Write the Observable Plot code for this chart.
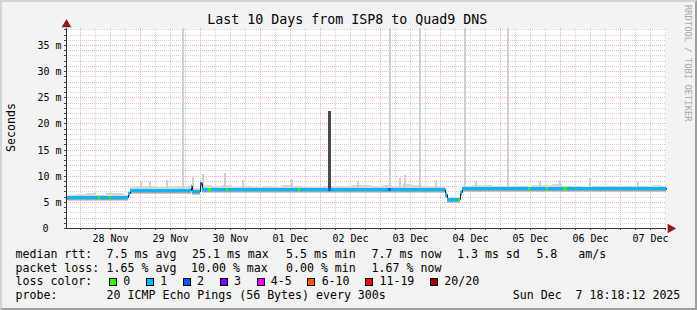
<!DOCTYPE html>
<html><head><meta charset="utf-8">
<script src="https://cdn.jsdelivr.net/npm/d3@7"></script>
<script src="https://cdn.jsdelivr.net/npm/@observablehq/plot@0.6"></script>
<style>
body{margin:0;background:#fff}
#chart{position:relative;width:697px;height:310px;background:#f3f3f3;overflow:hidden;font-family:"DejaVu Sans Mono",monospace;color:#000}
#chart svg{position:absolute;left:0;top:0}
.t{position:absolute;white-space:pre;font-size:11.6px;line-height:1}
#title{position:absolute;left:0;width:694.6px;top:12.75px;text-align:center;font-size:13.3px;line-height:1;white-space:pre}
#border{position:absolute;left:0;top:0;width:697px;height:310px;box-sizing:border-box;border-style:solid;border-width:2px;border-color:#d4d4d4 #9e9e9e #9e9e9e #d4d4d4;pointer-events:none}
#losses{position:absolute;left:109px;top:276.2px;display:flex;align-items:center;font-size:11.6px;line-height:1;white-space:pre}
.box{width:8px;height:8px;box-sizing:border-box;border:1px solid #000;margin-right:6.3px}
.lbl{margin-right:15.6px}
</style></head>
<body>
<div id="chart"></div>
<script>
// ---------- data ----------
const startTime = new Date("2025-11-27T18:18:12");
const endTime = new Date("2025-12-07T18:18:12");

// median rtt (ms) as steps; hours since start, value, loss bucket index
const medianHour = [0, 12.8, 13.6, 17.2, 18.0, 24.6, 25.4, 50.0, 50.4, 53.6, 54.4, 56.8, 58.0, 64.0, 64.8, 92.8, 93.6, 104.8, 106.0, 129.0, 129.8, 151.8, 152.4, 156.8, 157.6, 158.2, 184.8, 185.6, 192.0, 192.8, 198.8, 200.4, 240];
const medianMs   = [5.85, 5.85, 5.85, 5.85, 5.85, 6.6, 7.3, 8.1, 7.1, 8.6, 7.45, 7.45, 7.45, 7.45, 7.45, 7.45, 7.45, 7.45, 7.45, 7.45, 7.45, 6.5, 5.55, 5.55, 6.8, 7.6, 7.6, 7.6, 7.6, 7.6, 7.6, 7.6, 7.5];
const medianLoss = [1, 0, 1, 0, 1, 1, 1, 1, 1, 2, 1, 0, 1, 0, 1, 0, 1, 2, 1, 2, 1, 1, 1, 0, 1, 1, 0, 1, 0, 1, 0, 1, 1];

// smoke band (ms)
const smokeHour = [0, 4, 8, 12, 16, 20, 23.2, 24.6, 25.4, 28, 32, 36, 40, 44, 48, 50, 50.4, 53.6, 54.4, 58.4, 62.4, 66.4, 70.4, 74.4, 78.4, 82.4, 86.4, 90.4, 94.4, 98.4, 102.4, 106.4, 110.4, 114.4, 118.4, 122.4, 126.4, 130.4, 134.4, 138.4, 142.4, 146.4, 149.6, 151.8, 152.4, 157.6, 158.2, 162.4, 166.4, 170.4, 174.4, 178.4, 182.4, 186.4, 190.4, 194.4, 198.4, 202.4, 206.4, 210.4, 214.4, 218.4, 222.4, 226.4, 230.4, 234.4, 238.4, 240];
const smokeLo = [5.4, 5.4, 5.4, 5.4, 5.4, 5.4, 5.4, 6.2, 6.85, 6.85, 6.85, 6.85, 6.85, 6.85, 6.85, 6.7, 6.65, 7.0, 7.0, 7.0, 7.0, 7.0, 7.0, 7.0, 7.0, 7.0, 7.0, 7.0, 7.0, 7.0, 7.0, 7.0, 7.0, 7.0, 7.0, 7.0, 7.0, 7.0, 7.0, 7.0, 7.0, 7.0, 7.0, 6.1, 5.15, 6.4, 7.1, 7.1, 7.1, 7.1, 7.1, 7.1, 7.1, 7.1, 7.1, 7.1, 7.1, 7.1, 7.1, 7.1, 7.1, 7.1, 7.1, 7.1, 7.1, 7.1, 7.1, 7.1];
const smokeHi = [6.4, 6.5, 6.7, 6.4, 6.6, 6.7, 6.4, 7.0, 7.8, 8.0, 8.1, 7.9, 8.0, 8.0, 8.1, 8.4, 7.6, 8.8, 8.3, 8.0, 8.2, 7.9, 8.0, 7.8, 8.0, 7.9, 8.3, 8.0, 7.9, 7.8, 8.0, 8.1, 8.0, 8.2, 8.3, 8.1, 8.2, 8.0, 8.4, 8.3, 8.1, 8.0, 7.9, 7.0, 6.0, 7.2, 8.0, 8.3, 8.2, 8.1, 8.0, 8.0, 8.1, 8.2, 8.3, 8.4, 8.0, 8.0, 7.9, 8.1, 8.0, 8.0, 8.1, 8.0, 8.1, 8.2, 8.0, 8.0];

// narrow smoke spikes (hours since start, top ms)
const spikeHour = [29.6, 33.2, 40.0, 46.3, 50.3, 54.3, 63.2, 70.3, 90.0, 116.3, 129.2, 133.2, 135.2, 141.2, 147.6, 159.2, 163.6, 176.3, 189.2, 197.2, 209.2, 228.4];
const spikeMs   = [9.0, 8.8, 9.2, 40, 9.8, 10.3, 10.6, 9.2, 9.4, 9.0, 40, 9.6, 10.1, 40, 9.2, 40, 9.0, 40, 9.0, 9.2, 9.6, 8.8];
const darkSpikeHour = [105.2];
const darkSpikeMs = [22.3];

// ticks and labels
const yTickValues = [0, 5, 10, 15, 20, 25, 30, 35];
const yTickLabels = ["0", "5 m", "10 m", "15 m", "20 m", "25 m", "30 m", "35 m"];
const dayLabelTimes = ["2025-11-28T12:00", "2025-11-29T12:00", "2025-11-30T12:00", "2025-12-01T12:00", "2025-12-02T12:00", "2025-12-03T12:00", "2025-12-04T12:00", "2025-12-05T12:00", "2025-12-06T12:00", "2025-12-07T12:00"];
const dayLabels = ["28 Nov", "29 Nov", "30 Nov", "01 Dec", "02 Dec", "03 Dec", "04 Dec", "05 Dec", "06 Dec", "07 Dec"];

const lossLabels = ["0", "1", "2", "3", "4-5", "6-10", "11-19", "20/20"];
const lossColors = ["#26ff00", "#00b8ff", "#0059ff", "#7e00ff", "#ff00ff", "#ff5500", "#ff0000", "#a10000"];

// ---------- build ----------
const hourToDate = h => new Date(startTime.getTime() + h * 3600e3);
const yMax = 38.25;

const medianPts = medianHour.map((h, i) => ({t: hourToDate(h), v: medianMs[i], loss: medianLoss[i]}));
const medianSegs = medianPts.slice(0, -1).map((p, i) => ({x1: p.t, x2: medianPts[i + 1].t, y: p.v, loss: p.loss}));
const smoke = smokeHour.map((h, i) => ({t: hourToDate(h), lo: smokeLo[i], hi: smokeHi[i]}));
const spikes = spikeHour.map((h, i) => ({t: hourToDate(h), hi: spikeMs[i]}));
const darkSpikes = darkSpikeHour.map((h, i) => ({t: hourToDate(h), hi: darkSpikeMs[i]}));

const majorX = d3.timeDay.range(startTime, endTime);
const minorX = d3.timeHour.every(6).range(startTime, endTime).filter(d => d.getHours() !== 0);
const allX = d3.timeHour.every(6).range(startTime, endTime);
const majorY = d3.range(5, yMax, 5);
const minorY = d3.range(1, yMax, 1).filter(v => v % 5 !== 0);
const allY = d3.range(1, yMax, 1);

const plot = Plot.plot({
  width: 697, height: 310,
  marginLeft: 66, marginRight: 31, marginTop: 28, marginBottom: 82,
  x: {type: "time", domain: [startTime, endTime], axis: null, round: true},
  y: {domain: [0, yMax], axis: null, round: true},
  color: {domain: d3.range(lossColors.length), range: lossColors},
  style: {background: "transparent", fontFamily: "DejaVu Sans Mono", overflow: "visible"},
  marks: [
    Plot.frame({fill: "white", stroke: null}),
    Plot.ruleX(minorX, {stroke: "#d2d2d2", strokeDasharray: "1,1"}),
    Plot.ruleY(minorY, {stroke: "#d2d2d2", strokeDasharray: "1,1"}),
    Plot.ruleX(majorX, {stroke: "#f7b2b2", strokeDasharray: "1,1"}),
    Plot.ruleY(majorY, {stroke: "#f7b2b2", strokeDasharray: "1,1"}),
    Plot.areaY(smoke, {x: "t", y1: "lo", y2: "hi", curve: "step-after", fill: "#d8d8d8"}),
    Plot.ruleX(spikes, {x: "t", y1: 7, y2: "hi", stroke: "#d0d0d0", strokeWidth: 2, dx: 0.5, clip: true}),
    Plot.ruleX(darkSpikes, {x: "t", y1: 7.4, y2: "hi", stroke: "#4a4a4a", strokeWidth: 3}),
    Plot.ruleY(medianSegs, {x1: "x1", x2: "x2", y: "y", stroke: "#a0a0a0", strokeWidth: 2, dy: 2}),
    Plot.line(medianPts, {x: "t", y: "v", curve: "step-after", stroke: "#202020", strokeWidth: 1}),
    Plot.ruleY(medianSegs, {x1: "x1", x2: "x2", y: "y", stroke: "loss", strokeWidth: 3}),
    // axes
    Plot.axisY({ticks: allY.concat([0]), tickSize: 2, text: null, stroke: "#444"}),
    Plot.axisX({ticks: allX, tickSize: 2, text: null, stroke: "#444"}),
    Plot.ruleX([startTime], {y1: 0, y2: yMax, stroke: "#333"}),
    Plot.ruleY([0], {x1: startTime, x2: endTime, stroke: "#333", dx: 0}),
    Plot.dot([0], {x: startTime, y: yMax, dy: -4, symbol: "triangle", r: 3.6, fill: "#8e1b1b", stroke: null}),
    Plot.dot([0], {x: endTime, y: 0, dx: 4, symbol: "triangle", rotate: 90, r: 3.6, fill: "#8e1b1b", stroke: null}),
    Plot.text(yTickLabels, {filter: (d, i) => i > 0, x: startTime, y: (d, i) => yTickValues[i], text: d => d, dx: -5, textAnchor: "end", fontSize: 10, fill: "#000"}),
    Plot.text(yTickLabels, {filter: (d, i) => i === 0, x: startTime, y: (d, i) => yTickValues[i], text: d => d, dx: -21, textAnchor: "middle", fontSize: 10, fill: "#000"}),
    Plot.text(dayLabels, {x: (d, i) => new Date(dayLabelTimes[i]), y: 0, dy: 10, text: d => d, fontSize: 10, fill: "#000"})
  ]
});

const chart = document.getElementById("chart");
chart.appendChild(plot);
const svg = d3.select(plot);
svg.append("text").attr("transform", "translate(15,127.5) rotate(-90)").attr("text-anchor", "middle")
  .attr("font-family", "DejaVu Sans Mono").attr("font-size", 11.6).attr("fill", "#000").text("Seconds");
svg.append("text").attr("transform", "translate(685,5) rotate(90)").attr("text-anchor", "start")
  .attr("font-family", "DejaVu Sans Mono").attr("font-size", 8.8).attr("fill", "#a8a8a8").text("RRDTOOL / TOBI OETIKER");

function addText(x, top, s) {
  const d = document.createElement("div");
  d.className = "t"; d.style.left = x + "px"; d.style.top = top + "px"; d.textContent = s;
  chart.appendChild(d);
}
const title = document.createElement("div");
title.id = "title"; title.textContent = "Last 10 Days from ISP8 to Quad9 DNS";
chart.appendChild(title);

const rows = [248.7, 262.5, 276.2, 290.2];
addText(15.5, rows[0], "median rtt:");
addText(106.6, rows[0], "7.5 ms avg");
addText(192.0, rows[0], "25.1 ms max");
addText(286.0, rows[0], "5.5 ms min");
addText(371.6, rows[0], "7.7 ms now");
addText(457.0, rows[0], "1.3 ms sd");
addText(536.4, rows[0], "5.8   am/s");
addText(15.5, rows[1], "packet loss:");
addText(106.6, rows[1], "1.65 % avg");
addText(191.0, rows[1], "10.00 % max");
addText(286.0, rows[1], "0.00 % min");
addText(371.6, rows[1], "1.67 % now");
addText(15.5, rows[2], "loss color:");
addText(15.5, rows[3], "probe:");
addText(106.6, rows[3], "20 ICMP Echo Pings (56 Bytes) every 300s");
addText(512.8, rows[3], "Sun Dec  7 18:18:12 2025");

const losses = document.createElement("div");
losses.id = "losses";
lossLabels.forEach((l, i) => {
  const b = document.createElement("div"); b.className = "box"; b.style.background = lossColors[i];
  const s = document.createElement("span"); s.className = "lbl"; s.textContent = l;
  losses.appendChild(b); losses.appendChild(s);
});
chart.appendChild(losses);

const border = document.createElement("div"); border.id = "border"; chart.appendChild(border);
</script>
</body></html>
